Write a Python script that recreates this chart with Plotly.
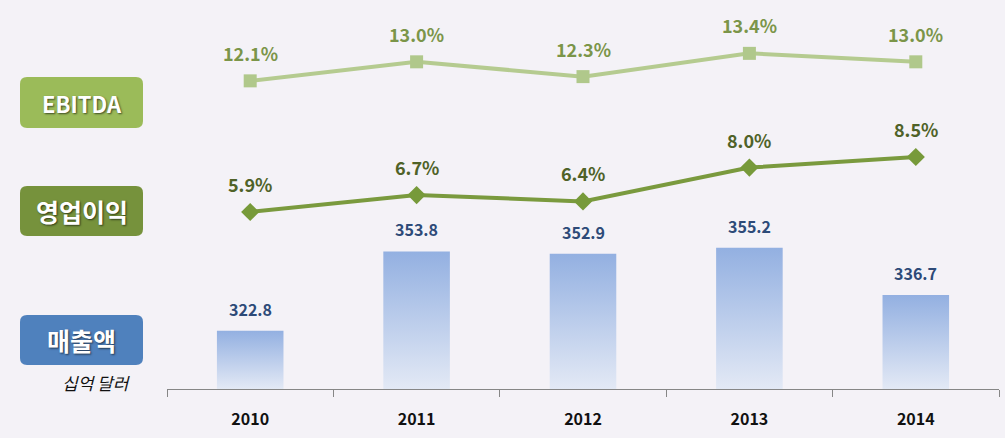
import plotly.graph_objects as go

years = ["2010", "2011", "2012", "2013", "2014"]
sales = [322.8, 353.8, 352.9, 355.2, 336.7]
ebitda = [12.1, 13.0, 12.3, 13.4, 13.0]
op_margin = [5.9, 6.7, 6.4, 8.0, 8.5]
sales_labels = ["322.8", "353.8", "352.9", "355.2", "336.7"]
ebitda_labels = ["12.1%", "13.0%", "12.3%", "13.4%", "13.0%"]
op_labels = ["5.9%", "6.7%", "6.4%", "8.0%", "8.5%"]
box_titles = ["EBITDA", "영업이익", "매출액"]
unit_label = "십억 달러"

W, H = 1005, 438
ML, MR, MT, MB = 167, 6, 10, 49
PW, PH = W - ML - MR, H - MT - MB
BAR_BASE = 300
FONT = "Noto Sans CJK KR, Noto Sans, sans-serif"
BG = "#F4F2F7"

x = list(range(len(years)))
fig = go.Figure()

half = 0.2
for xi, v in zip(x, sales):
    fig.add_trace(go.Scatter(
        x=[xi - half, xi + half, xi + half, xi - half, xi - half],
        y=[BAR_BASE, BAR_BASE, v, v, BAR_BASE],
        fill="toself", mode="lines", line=dict(width=0, color="rgba(0,0,0,0)"),
        fillgradient=dict(type="vertical",
                          colorscale=[[0, "#E3E9F5"], [1, "#93B0E1"]]),
        hoverinfo="skip", showlegend=False, yaxis="y"))

fig.add_trace(go.Scatter(
    x=x, y=ebitda, mode="lines+markers", yaxis="y2",
    line=dict(color="#B5CB90", width=4),
    marker=dict(symbol="square", size=13, color="#B0C88B"),
    showlegend=False))
fig.add_trace(go.Scatter(
    x=x, y=op_margin, mode="lines+markers", yaxis="y2",
    line=dict(color="#7A9A3E", width=4),
    marker=dict(symbol="diamond", size=14, color="#779A3A"),
    showlegend=False))

ann = []
for xi, v, t in zip(x, sales, sales_labels):
    ann.append(dict(x=xi, y=v, yref="y", text=t, showarrow=False, yanchor="middle",
                    yshift=22, font=dict(family=FONT, size=16, color="#2D4A78", weight="bold")))
for xi, v, t in zip(x, ebitda, ebitda_labels):
    ann.append(dict(x=xi, y=v, yref="y2", text=t, showarrow=False, yanchor="middle",
                    yshift=28, font=dict(family=FONT, size=18, color="#7B9549", weight="bold")))
for xi, v, t in zip(x, op_margin, op_labels):
    ann.append(dict(x=xi, y=v, yref="y2", text=t, showarrow=False, yanchor="middle",
                    yshift=28, font=dict(family=FONT, size=18, color="#4F6228", weight="bold")))


def px2paper(px, py):
    return (px - ML) / PW, (MT + PH - py) / PH


def rounded_rect(x0, y0, x1, y1, r):
    def P(px, py):
        a, b = px2paper(px, py)
        return f"{a:.5f},{b:.5f}"
    return (f"M {P(x0 + r, y0)} L {P(x1 - r, y0)} Q {P(x1, y0)} {P(x1, y0 + r)} "
            f"L {P(x1, y1 - r)} Q {P(x1, y1)} {P(x1 - r, y1)} "
            f"L {P(x0 + r, y1)} Q {P(x0, y1)} {P(x0, y1 - r)} "
            f"L {P(x0, y0 + r)} Q {P(x0, y0)} {P(x0 + r, y0)} Z")


shapes = []
boxes = [(77, 128, "#9BBB59", 22), (186, 236, "#76923C", 25), (315, 365, "#4F81BD", 25)]
for (y0, y1, col, fs), title in zip(boxes, box_titles):
    shapes.append(dict(type="path", xref="paper", yref="paper",
                       path=rounded_rect(20, y0, 143, y1, 7),
                       fillcolor=col, line=dict(width=0), layer="above"))
    cx, cy = px2paper(81.5, (y0 + y1) / 2)
    ann.append(dict(x=cx, y=cy, xref="paper", yref="paper", text=title, showarrow=False,
                    xanchor="center", yanchor="middle",
                    font=dict(family=FONT, size=fs, color="white", weight="bold",
                              shadow="1px 1px 2px rgba(0,0,0,0.6)")))
ux, uy = px2paper(96, 382)
ann.append(dict(x=ux, y=uy, xref="paper", yref="paper", text=unit_label, showarrow=False,
                xanchor="center", yanchor="middle",
                font=dict(family=FONT, size=17, color="#111111", style="italic")))

fig.update_layout(
    width=W, height=H,
    margin=dict(l=ML, r=MR, t=MT, b=MB),
    paper_bgcolor=BG, plot_bgcolor=BG,
    showlegend=False,
    xaxis=dict(range=[-0.5, len(years) - 0.5], tickmode="array", tickvals=x, ticktext=years,
               ticks="", showgrid=False, zeroline=False, showline=True, linecolor="#868686",
               linewidth=1, ticklabelstandoff=16,
               tickfont=dict(family=FONT, size=16, color="#111111", weight="bold"),
               minor=dict(tickmode="array", tickvals=[i - 0.5 for i in range(len(years) + 1)],
                          ticks="outside", ticklen=7, tickcolor="#868686", showgrid=False)),
    yaxis=dict(range=[BAR_BASE, BAR_BASE + PH / 2.558], visible=False, fixedrange=True),
    yaxis2=dict(range=[-2.47, 15.45], overlaying="y", visible=False),
    shapes=shapes, annotations=ann,
)

fig.write_html("out.html")
